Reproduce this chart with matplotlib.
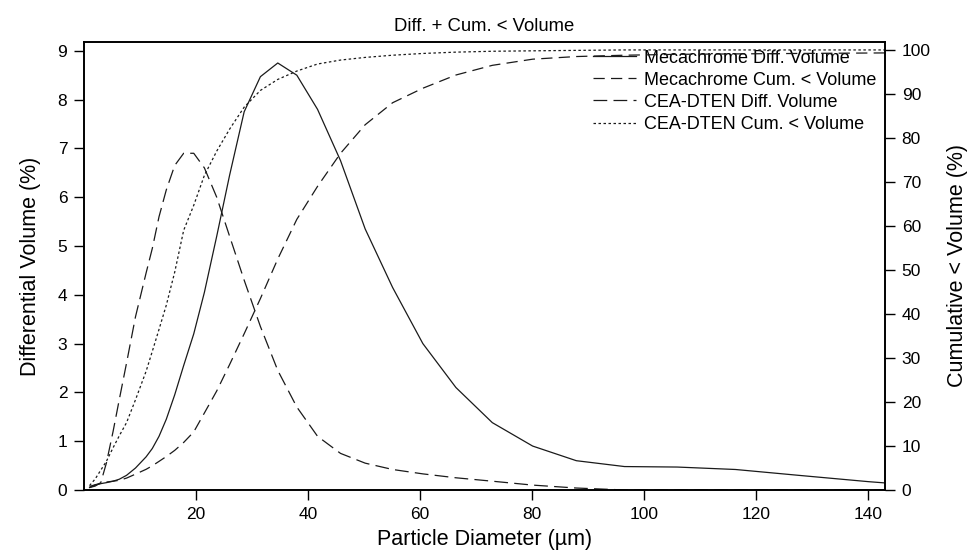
import matplotlib.pyplot as plt

plt.rcParams['font.family'] = ['Liberation Sans', 'DejaVu Sans']

# Particle diameter bins (um)
diameter = [1.0, 2.0, 3.0, 4.0, 5.2, 6.3, 7.6, 9.2, 11.1, 12.2, 13.4, 14.7, 16.2, 17.8,
            19.6, 21.5, 23.7, 26.0, 28.6, 31.5, 34.6, 38.0, 41.7, 45.8, 50.2, 55.1,
            60.5, 66.4, 72.9, 80.1, 87.9, 96.5, 105.9, 116.3, 127.6, 140.1, 153.8]

# Differential volume (%)
meca_diff = [0.05, 0.1, 0.13, 0.15, 0.18, 0.22, 0.3, 0.45, 0.68, 0.85, 1.1, 1.45, 1.95, 2.55,
             3.2, 4.05, 5.2, 6.45, 7.75, 8.47, 8.75, 8.5, 7.8, 6.75, 5.35, 4.15,
             3.0, 2.1, 1.38, 0.9, 0.6, 0.48, 0.47, 0.42, 0.3, 0.17, 0.05]
cea_diff = [0.05, 0.08, 0.15, 0.55, 1.2, 1.85, 2.6, 3.55, 4.45, 4.95, 5.6, 6.15, 6.65, 6.9,
            6.9, 6.6, 6.0, 5.2, 4.3, 3.35, 2.45, 1.7, 1.1, 0.75, 0.55, 0.42,
            0.33, 0.25, 0.18, 0.1, 0.04, 0.0, 0.0, 0.0, 0.0, 0.0, 0.0]

# Cumulative < volume (%)
meca_cum = [0.8, 1.2, 1.5, 1.8, 2.0, 2.2, 2.7, 3.6, 4.7, 5.5, 6.5, 7.6, 9.0, 10.8,
            13.2, 17.5, 22.5, 28.5, 35.5, 43.5, 52.5, 61.5, 69.0, 76.5, 83.0, 88.0,
            91.3, 94.3, 96.5, 97.9, 98.5, 98.8, 99.0, 99.1, 99.2, 99.3, 99.4]
cea_cum = [1.0, 2.5, 4.5, 6.5, 9.6, 12.3, 15.3, 20.5, 27.0, 31.5, 36.5, 42.0, 49.5, 59.0,
           64.7, 71.5, 77.0, 82.0, 87.0, 90.8, 93.3, 95.2, 96.8, 97.7, 98.3, 98.8,
           99.2, 99.5, 99.7, 99.8, 99.9, 100.0, 100.0, 100.0, 100.0, 100.0, 100.0]

fig = plt.figure(figsize=(9.74, 5.58), dpi=100)
ax = fig.add_axes([0.0862, 0.1219, 0.8224, 0.8028])
ax2 = ax.twinx()

lc = '#1a1a1a'
l1, = ax.plot(diameter, meca_diff, color=lc, lw=0.9, label='Mecachrome Diff. Volume')
l3, = ax.plot(diameter, cea_diff, color=lc, lw=0.9, dashes=(11, 5), label='CEA-DTEN Diff. Volume')
l2, = ax2.plot(diameter, meca_cum, color=lc, lw=0.9, dashes=(9, 5), label='Mecachrome Cum. < Volume')
l4, = ax2.plot(diameter, cea_cum, color=lc, lw=0.9, dashes=(2, 2), label='CEA-DTEN Cum. < Volume')

ax.set_xlim(0, 143)
ax.set_ylim(0, 9.18)
ax2.set_ylim(0, 101.8)

ax.set_xticks([20, 40, 60, 80, 100, 120, 140])
ax.set_yticks(range(0, 10))
ax2.set_yticks(range(0, 101, 10))

for a in (ax, ax2):
    a.tick_params(direction='out', length=7, width=1, labelsize=12.5, pad=5, colors='black')
    for s in a.spines.values():
        s.set_linewidth(1.2)

ax.set_xlabel('Particle Diameter (µm)', fontsize=15.5, labelpad=5)
ax.set_ylabel('Differential Volume (%)', fontsize=15.5, labelpad=12)
ax2.set_ylabel('Cumulative < Volume (%)', fontsize=15.5, labelpad=12)
ax.set_title('Diff. + Cum. < Volume', fontsize=13.3, pad=8)

ax.legend(handles=[l1, l2, l3, l4], loc='upper right', bbox_to_anchor=(1.0, 1.003),
          frameon=False, fontsize=13, handlelength=2.4, handletextpad=0.4,
          labelspacing=0.28, borderaxespad=0.1)

fig.savefig('out.png', dpi=100)
